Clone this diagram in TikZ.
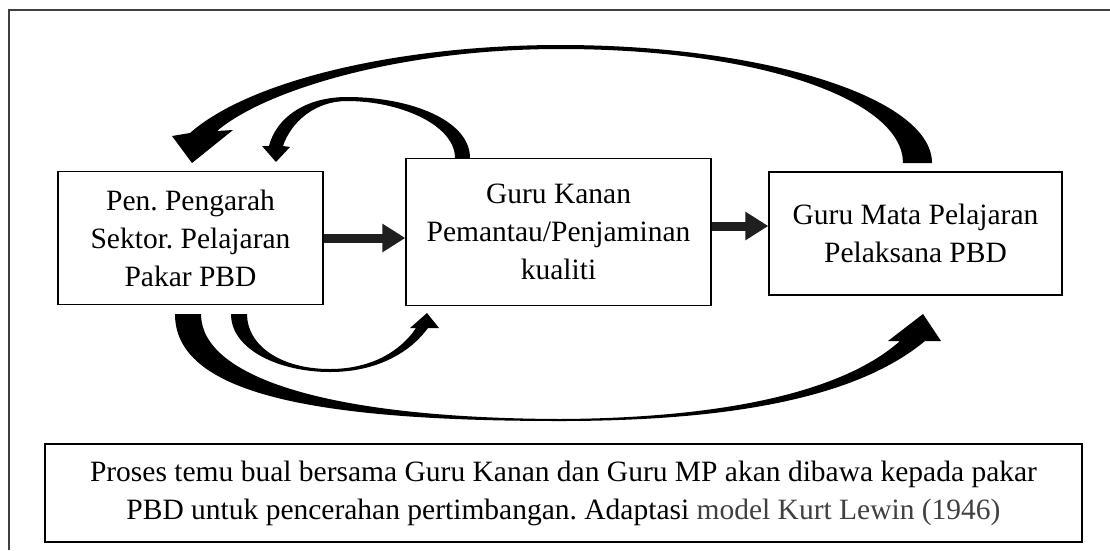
\documentclass[tikz,border=0pt]{standalone}
\usepackage{fontspec}
\setmainfont{Liberation Serif}
\usetikzlibrary{arrows.meta}
\definecolor{framecolor}{HTML}{404040}
\definecolor{citecolor}{HTML}{404040}
\frenchspacing

\begin{document}
\begin{tikzpicture}[x=1pt,y=-1pt,
  box/.style={draw, line width=1.3pt, inner sep=0pt, align=center, font=\fontsize{29.5}{38}\selectfont},
  fatarrow/.style={draw=black!88, line width=9pt, -{Triangle[length=23pt,width=27pt]}}]
  \useasboundingbox (0,0) rectangle (1110,550);
  % page frame
  \draw[framecolor, line width=1.8pt] (9,550) -- (9,10) -- (1110,10);
  % boxes
  \node[box, minimum width=265pt, minimum height=133pt] (pakar) at (190.5,238) {Pen. Pengarah\\Sektor. Pelajaran\\Pakar PBD};
  \node[box, minimum width=305pt, minimum height=147pt] (kanan) at (558.5,232) {Guru Kanan\\Pemantau/Penjaminan\\kualiti};
  \node[box, minimum width=293pt, minimum height=123pt] (guru) at (915.5,233.5) {Guru Mata Pelajaran\\Pelaksana PBD};
  \node[box, line width=1.8pt, minimum width=1037pt, minimum height=98pt] (nota) at (563.5,493) {Proses temu bual bersama Guru Kanan dan Guru MP akan dibawa kepada pakar\\PBD untuk pencerahan pertimbangan. Adaptasi {\color{citecolor}model Kurt Lewin (1946)}};
  % straight arrows
  \draw[fatarrow] (pakar.east) -- (pakar.east -| kanan.west);
  \draw[fatarrow] ([yshift=6pt]kanan.east) -- ([yshift=6pt]kanan.east -| guru.west);
  % long arc from guru back to pakar
  \fill (932,163) .. controls (932,98) and (765,45) .. (560,45) .. controls (400,45) and (250,80) .. (190,133)
    -- (172,136) -- (192,163) -- (233,130) -- (217,131) .. controls (265,90) and (400,49) .. (560,49)
    .. controls (760,49) and (903,100) .. (903,163) -- cycle;
  % short arc from kanan back to pakar
  \fill (470,158) .. controls (470,120) and (410,97) .. (347,97) .. controls (305,97) and (276,118) .. (269,146)
    -- (262,146) -- (276,162) -- (290,147) -- (283,146) .. controls (291,122) and (315,101) .. (347,101)
    .. controls (400,101) and (455,125) .. (455,158) -- cycle;
  % short arc from pakar to kanan
  \fill (231,314) .. controls (231,350) and (280,372) .. (330,372) .. controls (380,372) and (412,350) .. (428,328)
    -- (439,328) -- (427,313) -- (410,328) -- (416,328) .. controls (400,352) and (370,369) .. (330,369)
    .. controls (280,369) and (247,345) .. (247,314) -- cycle;
  % long arc from pakar to guru
  \fill (175,314) .. controls (175,390) and (300,421) .. (560,421) .. controls (740,421) and (860,395) .. (925,341)
    -- (941,341) -- (923,314) -- (888,341) -- (900,341) .. controls (845,390) and (730,418) .. (560,419)
    .. controls (320,418) and (201,375) .. (201,314) -- cycle;
\end{tikzpicture}
\end{document}
